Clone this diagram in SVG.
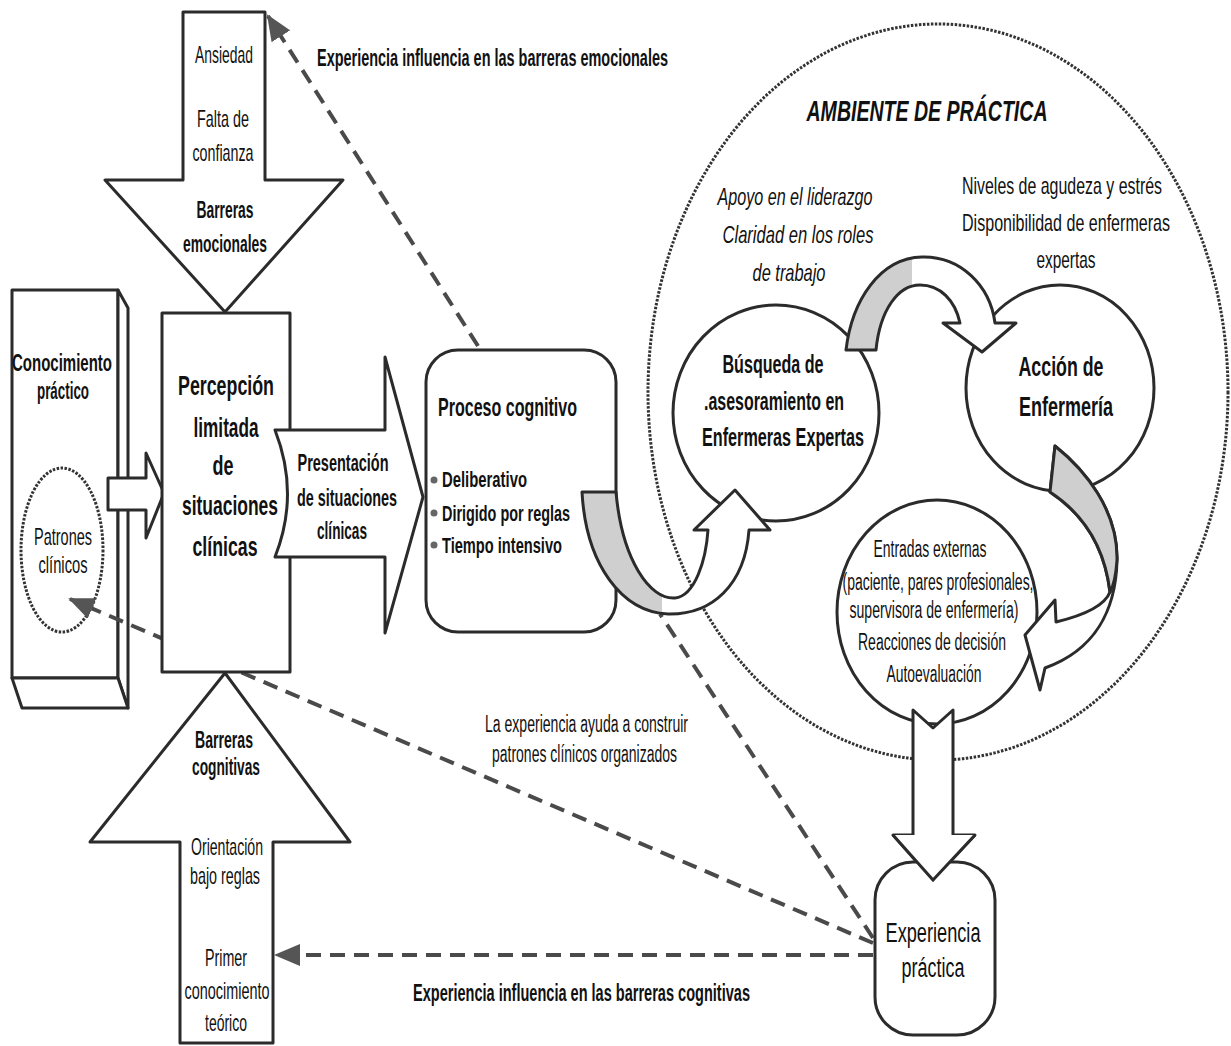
<svg xmlns="http://www.w3.org/2000/svg" width="1231" height="1046" viewBox="0 0 1231 1046">
<defs>
<style>
.s{fill:#fff;stroke:#2b2b2b;stroke-width:3;stroke-linejoin:round}
.t{font-family:"Liberation Sans",Arial,sans-serif;fill:#111}
.r{font-size:24px}
.b{font-weight:bold}
.dash{fill:none;stroke:#4a4a4a;stroke-width:4;stroke-dasharray:15 9}
.dot{fill:none;stroke:#333;stroke-width:3;stroke-dasharray:2.5 1.5}
.gr{fill:#cfcfcf;stroke:#2b2b2b;stroke-width:3;stroke-linejoin:round}
</style>
<marker id="ah" viewBox="0 0 13 11" refX="12" refY="5.5" markerWidth="26" markerHeight="22" markerUnits="userSpaceOnUse" orient="auto">
<path d="M0,0 L13,5.5 L0,11 z" fill="#555"/>
</marker>
<linearGradient id="g1" gradientUnits="userSpaceOnUse" x1="580" y1="0" x2="770" y2="0">
<stop offset="0" stop-color="#cfcfcf"/><stop offset="0.43" stop-color="#cfcfcf"/><stop offset="0.43" stop-color="#fff"/><stop offset="1" stop-color="#fff"/>
</linearGradient>
<linearGradient id="g2" gradientUnits="userSpaceOnUse" x1="840" y1="0" x2="1020" y2="0">
<stop offset="0" stop-color="#cfcfcf"/><stop offset="0.4" stop-color="#cfcfcf"/><stop offset="0.4" stop-color="#fff"/><stop offset="1" stop-color="#fff"/>
</linearGradient>
</defs>
<rect width="1231" height="1046" fill="#fff"/>

<g id="ambiente">
<ellipse cx="938" cy="392" rx="290" ry="368" class="dot"/>
<text class="t b" x="927" y="121" font-size="30" font-style="italic" text-anchor="middle" textLength="241" lengthAdjust="spacingAndGlyphs">AMBIENTE DE PRÁCTICA</text>
<g class="t r" font-style="italic" text-anchor="middle">
<text x="795" y="205" textLength="155" lengthAdjust="spacingAndGlyphs">Apoyo en el liderazgo</text>
<text x="798" y="243" textLength="151" lengthAdjust="spacingAndGlyphs">Claridad en los roles</text>
<text x="789" y="281" textLength="73" lengthAdjust="spacingAndGlyphs">de trabajo</text>
</g>
<g class="t r" text-anchor="middle">
<text x="1062" y="194" textLength="200" lengthAdjust="spacingAndGlyphs">Niveles de agudeza y estrés</text>
<text x="1066" y="231" textLength="208" lengthAdjust="spacingAndGlyphs">Disponibilidad de enfermeras</text>
<text x="1066" y="268" textLength="59" lengthAdjust="spacingAndGlyphs">expertas</text>
</g>
</g>

<g id="conocimiento">
<rect x="12" y="290" width="106" height="388" class="s"/>
<polygon points="118,290 128,308 128,708 118,678" class="s"/>
<polygon points="12,678 118,678 128,708 22,708" class="s"/>
<text class="t b" x="62" y="371" font-size="23" text-anchor="middle" textLength="100" lengthAdjust="spacingAndGlyphs">Conocimiento</text>
<text class="t b" x="63" y="399" font-size="23" text-anchor="middle" textLength="52" lengthAdjust="spacingAndGlyphs">práctico</text>
</g>

<g id="patrones">
<ellipse cx="62" cy="550" rx="41" ry="82" class="dot" stroke-width="3.5"/>
<text class="t r" x="63" y="545" text-anchor="middle" textLength="58" lengthAdjust="spacingAndGlyphs">Patrones</text>
<text class="t r" x="63" y="573" text-anchor="middle" textLength="49" lengthAdjust="spacingAndGlyphs">clínicos</text>
</g>

<g id="connectors">
<line x1="478" y1="346" x2="268" y2="16" class="dash" marker-end="url(#ah)"/>
<line x1="873" y1="943" x2="70" y2="599" class="dash" marker-end="url(#ah)"/>
<line x1="873" y1="955" x2="276" y2="955" class="dash" marker-end="url(#ah)"/>
<line x1="873" y1="938" x2="660" y2="614" class="dash"/>
<text class="t b" x="317" y="66" font-size="23" textLength="351" lengthAdjust="spacingAndGlyphs">Experiencia influencia en las barreras emocionales</text>
<text class="t" x="485" y="732" font-size="23" textLength="203" lengthAdjust="spacingAndGlyphs">La experiencia ayuda a construir</text>
<text class="t" x="492" y="762" font-size="23" textLength="185" lengthAdjust="spacingAndGlyphs">patrones clínicos organizados</text>
<text class="t b" x="413" y="1001" font-size="23" textLength="337" lengthAdjust="spacingAndGlyphs">Experiencia influencia en las barreras cognitivas</text>
</g>

<g id="flecha-conocimiento">
<polygon points="108,478 146,478 146,453 164,493 146,538 146,510 108,510" class="s"/>
</g>

<g id="percepcion">
<rect x="162" y="313" width="128" height="359" class="s"/>
<g class="t b" font-size="28" text-anchor="middle">
<text x="226" y="395" textLength="96" lengthAdjust="spacingAndGlyphs">Percepción</text>
<text x="226" y="437" textLength="65" lengthAdjust="spacingAndGlyphs">limitada</text>
<text x="223" y="475" textLength="21" lengthAdjust="spacingAndGlyphs">de</text>
<text x="230" y="515" textLength="96" lengthAdjust="spacingAndGlyphs">situaciones</text>
<text x="225" y="556" textLength="65" lengthAdjust="spacingAndGlyphs">clínicas</text>
</g>
</g>

<g id="barreras-emocionales">
<polygon points="183,12 265,12 265,180 343,180 225,312 105,180 183,180" class="s"/>
<g class="t r" text-anchor="middle">
<text x="224" y="63" textLength="58" lengthAdjust="spacingAndGlyphs">Ansiedad</text>
<text x="223" y="127" textLength="52" lengthAdjust="spacingAndGlyphs">Falta de</text>
<text x="223" y="161" textLength="61" lengthAdjust="spacingAndGlyphs">confianza</text>
</g>
<g class="t b r" text-anchor="middle">
<text x="225" y="218" textLength="57" lengthAdjust="spacingAndGlyphs">Barreras</text>
<text x="225" y="252" textLength="84" lengthAdjust="spacingAndGlyphs">emocionales</text>
</g>
</g>

<g id="barreras-cognitivas">
<polygon points="225,673 350,842 273,842 273,1043 180,1043 180,842 90,842" class="s"/>
<g class="t b r" text-anchor="middle">
<text x="224" y="748" textLength="58" lengthAdjust="spacingAndGlyphs">Barreras</text>
<text x="226" y="775" textLength="68" lengthAdjust="spacingAndGlyphs">cognitivas</text>
</g>
<g class="t r" text-anchor="middle">
<text x="227" y="855" textLength="72" lengthAdjust="spacingAndGlyphs">Orientación</text>
<text x="225" y="884" textLength="70" lengthAdjust="spacingAndGlyphs">bajo reglas</text>
<text x="226" y="966" textLength="42" lengthAdjust="spacingAndGlyphs">Primer</text>
<text x="227" y="999" textLength="85" lengthAdjust="spacingAndGlyphs">conocimiento</text>
<text x="226" y="1031" textLength="42" lengthAdjust="spacingAndGlyphs">teórico</text>
</g>
</g>

<g id="presentacion">
<path d="M275,430 L385,430 L385,357 L423,497 L385,633 L385,557 L275,557 Q300,494 275,430 Z" class="s"/>
<g class="t b r" text-anchor="middle">
<text x="343" y="471" textLength="91" lengthAdjust="spacingAndGlyphs">Presentación</text>
<text x="347" y="506" textLength="100" lengthAdjust="spacingAndGlyphs">de situaciones</text>
<text x="342" y="539" textLength="50" lengthAdjust="spacingAndGlyphs">clínicas</text>
</g>
</g>

<g id="proceso">
<rect x="426" y="350" width="190" height="282" rx="32" class="s"/>
<text class="t b" x="438" y="416" font-size="25" textLength="139" lengthAdjust="spacingAndGlyphs">Proceso cognitivo</text>
<g fill="#666">
<circle cx="434" cy="480" r="3.5"/><circle cx="434" cy="513" r="3.5"/><circle cx="434" cy="545" r="3.5"/>
</g>
<g class="t b" font-size="22">
<text x="442" y="487" textLength="85" lengthAdjust="spacingAndGlyphs">Deliberativo</text>
<text x="442" y="521" textLength="128" lengthAdjust="spacingAndGlyphs">Dirigido por reglas</text>
<text x="442" y="553" textLength="120" lengthAdjust="spacingAndGlyphs">Tiempo intensivo</text>
</g>
</g>

<g id="busqueda">
<ellipse cx="776" cy="413" rx="103" ry="108" class="s"/>
<g class="t b" font-size="26" text-anchor="middle">
<text x="773" y="373" textLength="101" lengthAdjust="spacingAndGlyphs">Búsqueda de</text>
<text x="774" y="410" textLength="140" lengthAdjust="spacingAndGlyphs">.asesoramiento en</text>
<text x="783" y="446" textLength="162" lengthAdjust="spacingAndGlyphs">Enfermeras Expertas</text>
</g>
</g>

<g id="accion">
<ellipse cx="1060" cy="388" rx="94" ry="103" class="s"/>
<g class="t b" font-size="28" text-anchor="middle">
<text x="1061" y="376" textLength="85" lengthAdjust="spacingAndGlyphs">Acción de</text>
<text x="1066" y="416" textLength="94" lengthAdjust="spacingAndGlyphs">Enfermería</text>
</g>
</g>

<g id="entradas">
<ellipse cx="937" cy="612" rx="100" ry="112" class="s"/>
<g class="t" font-size="23" text-anchor="middle">
<text x="930" y="557" textLength="113" lengthAdjust="spacingAndGlyphs">Entradas externas</text>
<text x="938" y="590" textLength="191" lengthAdjust="spacingAndGlyphs">(paciente, pares profesionales,</text>
<text x="934" y="618" textLength="169" lengthAdjust="spacingAndGlyphs">supervisora de enfermería)</text>
<text x="932" y="650" textLength="148" lengthAdjust="spacingAndGlyphs">Reacciones de decisión</text>
<text x="934" y="682" textLength="95" lengthAdjust="spacingAndGlyphs">Autoevaluación</text>
</g>
</g>

<g id="ciclo-flechas">
<path d="M582,492 L616,492 C622,560 650,600 675,598 C695,596 706,560 708,530 L694,530 L735,490 L770,530 L749,530 C745,585 712,615 668,614 C622,612 586,565 582,492 Z" fill="url(#g1)" stroke="#2b2b2b" stroke-width="3" stroke-linejoin="round"/>
<path d="M846,350 C852,300 880,258 922,257 C960,256 990,285 995,323 L1016,323 L982,352 L943,323 L960,323 C955,300 940,285 920,285 C898,285 880,310 876,350 Z" fill="url(#g2)" stroke="#2b2b2b" stroke-width="3" stroke-linejoin="round"/>
<path d="M1055,446 C1085,470 1118,510 1117,560 C1116,610 1095,650 1045,668 L1040,690 L1025,635 L1055,600 L1056,622 C1085,615 1105,605 1110,592 C1105,550 1085,515 1050,492 Z" class="s"/>
<path d="M1055,446 C1085,470 1118,510 1117,560 C1116,575 1114,585 1110,592 C1105,550 1085,515 1050,492 Z" class="gr"/>
<polygon points="913,710 933,728 953,710 953,835 975,835 933,880 893,835 913,835" class="s"/>
</g>

<g id="experiencia">
<rect x="875" y="862" width="120" height="173" rx="38" class="s"/>
<polygon points="893,835 975,835 933,880" fill="#fff" stroke="none"/>
<path d="M893,835 L933,880 L975,835" fill="none" stroke="#2b2b2b" stroke-width="3"/>
<g class="t" font-size="27" text-anchor="middle">
<text x="933" y="942" textLength="95" lengthAdjust="spacingAndGlyphs">Experiencia</text>
<text x="933" y="977" textLength="63" lengthAdjust="spacingAndGlyphs">práctica</text>
</g>
</g>
</svg>
